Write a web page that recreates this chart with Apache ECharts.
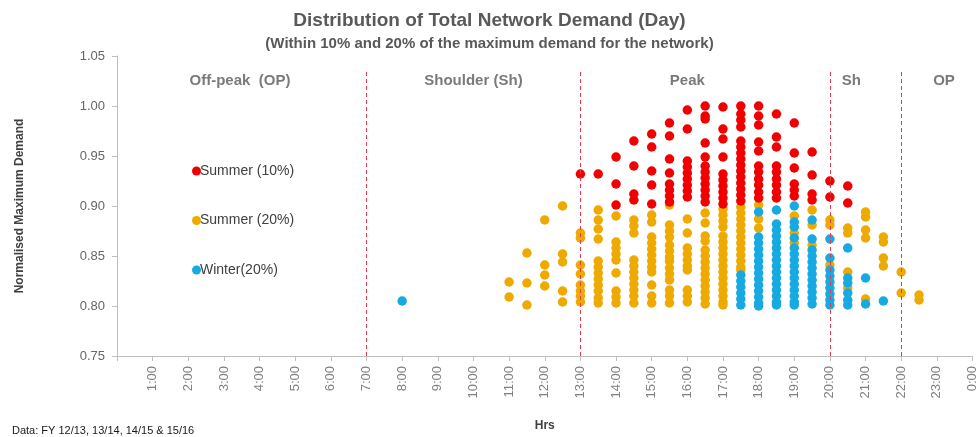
<!DOCTYPE html>
<html>
<head>
<meta charset="utf-8">
<script src="https://cdn.jsdelivr.net/npm/echarts@6/dist/echarts.min.js"></script>
<style>
  html, body { margin: 0; padding: 0; background: #fff; }
  #chart { width: 979px; height: 437px; }
</style>
</head>
<body>
<div id="chart"></div>
<script>
// hour -> normalised demand values
const summer10 = [
  [13.0, [0.932]],
  [13.5, [0.932]],
  [14.0, [0.949, 0.922, 0.901]],
  [14.5, [0.965, 0.940, 0.912, 0.906]],
  [15.0, [0.972, 0.959, 0.935, 0.921, 0.902]],
  [15.5, [0.983, 0.970, 0.947, 0.933, 0.922, 0.916, 0.910, 0.904]],
  [16.0, [0.996, 0.977, 0.945, 0.939, 0.933, 0.927, 0.921, 0.915, 0.909]],
  [16.5, [1.000, 0.990, 0.987, 0.963, 0.949, 0.940, 0.934, 0.928, 0.922, 0.916, 0.910, 0.904]],
  [17.0, [0.999, 0.977, 0.967, 0.949, 0.932, 0.926, 0.920, 0.914, 0.908, 0.902]],
  [17.5, [1.000, 0.992, 0.986, 0.979, 0.965, 0.959, 0.953, 0.947, 0.941, 0.935, 0.929, 0.923, 0.917, 0.911, 0.905]],
  [18.0, [1.000, 0.990, 0.981, 0.964, 0.955, 0.940, 0.934, 0.927, 0.921, 0.914, 0.908]],
  [18.5, [0.992, 0.969, 0.959, 0.940, 0.934, 0.927, 0.921, 0.914, 0.908]],
  [19.0, [0.983, 0.953, 0.938, 0.922, 0.916, 0.910]],
  [19.5, [0.954, 0.931, 0.912, 0.906]],
  [20.0, [0.925, 0.909]],
  [20.5, [0.920, 0.903]]
];

const summer20 = [
  [11.0, [0.824, 0.809]],
  [11.5, [0.853, 0.823, 0.801]],
  [12.0, [0.886, 0.841, 0.831, 0.820]],
  [12.5, [0.900, 0.852, 0.844, 0.815, 0.804]],
  [13.0, [0.873, 0.868, 0.841, 0.832, 0.821, 0.815, 0.810, 0.804]],
  [13.5, [0.896, 0.886, 0.877, 0.867, 0.845, 0.839, 0.833, 0.827, 0.821, 0.815, 0.808, 0.803]],
  [14.0, [0.890, 0.864, 0.858, 0.852, 0.846, 0.833, 0.815, 0.809, 0.803]],
  [14.5, [0.886, 0.880, 0.873, 0.846, 0.840, 0.834, 0.828, 0.822, 0.816, 0.810, 0.803]],
  [15.0, [0.891, 0.884, 0.869, 0.863, 0.857, 0.851, 0.845, 0.839, 0.834, 0.821, 0.810, 0.803]],
  [15.5, [0.901, 0.881, 0.875, 0.869, 0.861, 0.855, 0.849, 0.845, 0.838, 0.832, 0.826, 0.816, 0.810, 0.803]],
  [16.0, [0.887, 0.873, 0.858, 0.852, 0.846, 0.840, 0.836, 0.816, 0.810, 0.804]],
  [16.5, [0.893, 0.883, 0.870, 0.865, 0.856, 0.850, 0.844, 0.838, 0.832, 0.826, 0.820, 0.814, 0.808, 0.802]],
  [17.0, [0.897, 0.891, 0.885, 0.879, 0.870, 0.864, 0.858, 0.852, 0.846, 0.840, 0.834, 0.828, 0.822, 0.816, 0.810, 0.804, 0.801]],
  [17.5, [0.899, 0.893, 0.887, 0.881, 0.875, 0.869, 0.863, 0.857, 0.851, 0.845, 0.839, 0.836]],
  [18.0, [0.901, 0.887, 0.878]],
  [19.0, [0.890, 0.873, 0.863]],
  [19.5, [0.896, 0.881, 0.861]],
  [20.0, [0.886, 0.881, 0.841]],
  [20.5, [0.878, 0.873, 0.834, 0.818]],
  [21.0, [0.894, 0.889, 0.876, 0.868, 0.807]],
  [21.5, [0.869, 0.864, 0.848, 0.840]],
  [22.0, [0.834, 0.813]],
  [22.5, [0.811, 0.806]]
];

const winter20 = [
  [8.0, [0.805]],
  [17.5, [0.831, 0.825, 0.819, 0.813, 0.807, 0.801]],
  [18.0, [0.894, 0.869, 0.863, 0.857, 0.851, 0.845, 0.839, 0.833, 0.827, 0.821, 0.815, 0.809, 0.803, 0.800]],
  [18.5, [0.896, 0.882, 0.876, 0.870, 0.864, 0.858, 0.852, 0.846, 0.840, 0.834, 0.828, 0.822, 0.816, 0.810, 0.804, 0.801]],
  [19.0, [0.900, 0.884, 0.879, 0.868, 0.858, 0.852, 0.846, 0.840, 0.834, 0.828, 0.822, 0.816, 0.810, 0.804, 0.801]],
  [19.5, [0.886, 0.867, 0.856, 0.850, 0.844, 0.838, 0.832, 0.826, 0.820, 0.814, 0.808, 0.802]],
  [20.0, [0.867, 0.848, 0.836, 0.830, 0.824, 0.818, 0.812, 0.806, 0.801]],
  [20.5, [0.858, 0.828, 0.823, 0.813, 0.806, 0.801]],
  [21.0, [0.828, 0.802]],
  [21.5, [0.805]]
];

const seriesNames = ['Summer (10%)', 'Summer (20%)', 'Winter(20%)'];
const seriesColors = ['#f20000', '#eeaa00', '#17a9e1'];

// period boundaries (hours) and period captions [text, hour]
const boundaries = [7, 13, 20, 22];
const periods = [
  ['Off-peak  (OP)', 3.45],
  ['Shoulder (Sh)', 10.0],
  ['Peak', 16.0],
  ['Sh', 20.6],
  ['OP', 23.2]
];
const periodY = 1.025;

// flatten [hour, [values]] into scatter points
function toPoints(cols) {
  const pts = [];
  cols.forEach(c => c[1].forEach(v => pts.push([c[0], v])));
  return pts;
}

const chart = echarts.init(document.getElementById('chart'));
const font = '"Liberation Sans", Arial, sans-serif';

const option = {
  animation: false,
  textStyle: { fontFamily: font },
  title: {
    text: 'Distribution of Total Network Demand (Day)',
    subtext: '(Within 10% and 20% of the maximum demand for the network)',
    left: 'center',
    top: 6,
    itemGap: 6,
    textStyle: { fontSize: 19, fontWeight: 'bold', color: '#595959', fontFamily: font },
    subtextStyle: { fontSize: 15, fontWeight: 'bold', color: '#595959', fontFamily: font }
  },
  legend: {
    data: seriesNames,
    orient: 'vertical',
    left: 187,
    top: 159,
    itemGap: 35.5,
    itemWidth: 9,
    itemHeight: 9,
    icon: 'circle',
    textStyle: { fontSize: 14, color: '#404040', padding: [0, 0, 0, -6] }
  },
  grid: { left: 117, right: 4, top: 56, bottom: 79 },
  xAxis: {
    type: 'value',
    min: 0,
    max: 24,
    interval: 1,
    name: 'Hrs',
    nameLocation: 'middle',
    nameGap: 64,
    nameTextStyle: { fontSize: 12, fontWeight: 'bold', color: '#404040' },
    axisLine: { lineStyle: { color: '#bfbfbf' } },
    axisTick: { show: true, length: 5, lineStyle: { color: '#bfbfbf' } },
    axisLabel: {
      rotate: 90,
      margin: 10,
      fontSize: 13,
      color: '#808080',
      formatter: v => (v === 0 ? '' : (v % 24) + ':00')
    },
    splitLine: { show: false }
  },
  yAxis: {
    type: 'value',
    min: 0.75,
    max: 1.05,
    interval: 0.05,
    name: 'Normalised Maximum Demand',
    nameLocation: 'middle',
    nameGap: 91,
    nameTextStyle: { fontSize: 12, fontWeight: 'bold', color: '#404040' },
    axisLine: { show: true, lineStyle: { color: '#bfbfbf' } },
    axisTick: { show: true, length: 5, lineStyle: { color: '#bfbfbf' } },
    axisLabel: {
      margin: 12,
      fontSize: 13,
      color: '#666666',
      formatter: v => v.toFixed(2)
    },
    splitLine: { show: false }
  },
  graphic: [{
    type: 'text',
    left: 12,
    top: 425,
    style: { text: 'Data: FY 12/13, 13/14, 14/15 & 15/16', fontSize: 11, fill: '#1a1a1a', fontFamily: font }
  }],
  series: [
    {
      name: seriesNames[0],
      type: 'scatter',
      z: 3,
      symbolSize: 9.5,
      itemStyle: { color: seriesColors[0], opacity: 1 },
      data: toPoints(summer10)
    },
    {
      name: seriesNames[1],
      type: 'scatter',
      z: 2,
      symbolSize: 9.5,
      itemStyle: { color: seriesColors[1], opacity: 1 },
      data: toPoints(summer20)
    },
    {
      name: seriesNames[2],
      type: 'scatter',
      z: 4,
      symbolSize: 9.5,
      itemStyle: { color: seriesColors[2], opacity: 1 },
      data: toPoints(winter20),
      markLine: {
        silent: true,
        symbol: ['none', 'none'],
        label: { show: false },
        lineStyle: { color: '#e63a4c', type: [4, 3], width: 1 },
        data: boundaries.map(h => [{ coord: [h, 0.75] }, { coord: [h, 1.034] }])
      }
    },
    {
      name: 'periods',
      type: 'scatter',
      silent: true,
      symbolSize: 0,
      label: {
        show: true,
        position: 'inside',
        fontSize: 15,
        fontWeight: 'bold',
        color: '#595959',
        formatter: p => p.name
      },
      data: periods.map(p => ({ name: p[0], value: [p[1], periodY] }))
    }
  ]
};

chart.setOption(option);
</script>
</body>
</html>
